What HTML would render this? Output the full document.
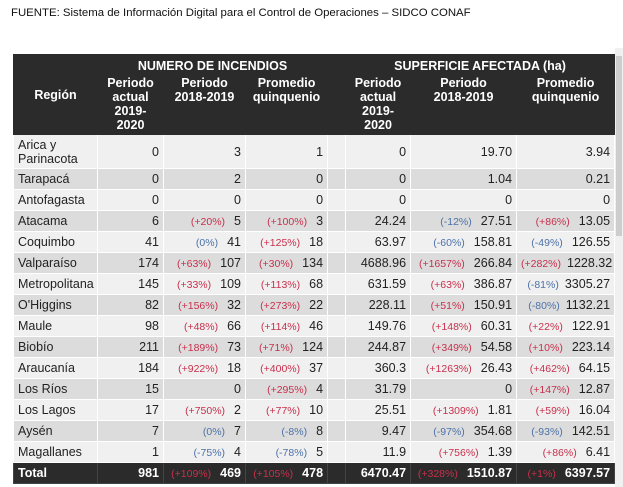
<!DOCTYPE html>
<html><head><meta charset="utf-8">
<style>
body{margin:0;width:623px;height:487px;overflow:hidden;background:#fff;font-family:"Liberation Sans","DejaVu Sans",sans-serif;position:relative}
.src{position:absolute;left:11px;top:7px;font-size:11.4px;color:#111}
table{position:absolute;left:13px;top:54px;border-collapse:collapse;table-layout:fixed;width:601px}
td,th{border:1px solid #fff;padding:0 4px;font-size:12px;color:#222;white-space:nowrap;overflow:hidden}
th{background:#2b2b2b;color:#fff;font-weight:bold;font-size:12.5px;line-height:14px;border-color:#2b2b2b;text-align:center}
td{height:20px;text-align:right;font-size:12.5px}
td.r{text-align:left;line-height:14px}
tr.a td{background:#f0f0f0}
tr.b td{background:#dcdcdc}
.p{font-size:10.5px;margin-right:9px}
.p.red{color:#c8304c}.p.blu{color:#4c72a8}
tr.t td{background:#2b2b2b;color:#fff;font-weight:bold;border-color:#444}
.sb{position:absolute;left:615px;top:48px;width:8px;height:439px;background:#f0f0f0}
.th{position:absolute;left:616px;top:56px;width:6px;height:180px;background:#cdcdcd}
</style></head><body>
<div class="src">FUENTE: Sistema de Información Digital para el Control de Operaciones – SIDCO CONAF</div>
<div class="sb"></div><div class="th"></div>
<table>
<colgroup><col style="width:84px"><col style="width:66px"><col style="width:82px"><col style="width:82px"><col style="width:18px"><col style="width:65px"><col style="width:106px"><col style="width:98px"></colgroup>
<tr><th rowspan="2" style="height:79px">Región</th><th colspan="3" style="height:18px;padding-top:2px">NUMERO DE INCENDIOS</th><th rowspan="2"></th><th colspan="3" style="padding-top:2px">SUPERFICIE AFECTADA (ha)</th></tr>
<tr><th style="vertical-align:top">Periodo<br>actual<br>2019-<br>2020</th><th style="vertical-align:top">Periodo<br>2018-2019</th><th style="vertical-align:top">Promedio<br>quinquenio</th><th style="vertical-align:top">Periodo<br>actual<br>2019-<br>2020</th><th style="vertical-align:top">Periodo<br>2018-2019</th><th style="vertical-align:top">Promedio<br>quinquenio</th></tr>
<tr class="a"><td class="r" style="height:33px">Arica y<br>Parinacota</td><td>0</td><td>3</td><td>1</td><td></td><td>0</td><td>19.70</td><td>3.94</td></tr>
<tr class="b"><td class="r">Tarapacá</td><td>0</td><td>2</td><td>0</td><td></td><td>0</td><td>1.04</td><td>0.21</td></tr>
<tr class="a"><td class="r">Antofagasta</td><td>0</td><td>0</td><td>0</td><td></td><td>0</td><td>0</td><td>0</td></tr>
<tr class="b"><td class="r">Atacama</td><td>6</td><td><span class="p red">(+20%)</span>5</td><td><span class="p red">(+100%)</span>3</td><td></td><td>24.24</td><td><span class="p blu">(-12%)</span>27.51</td><td><span class="p red">(+86%)</span>13.05</td></tr>
<tr class="a"><td class="r">Coquimbo</td><td>41</td><td><span class="p blu">(0%)</span>41</td><td><span class="p red">(+125%)</span>18</td><td></td><td>63.97</td><td><span class="p blu">(-60%)</span>158.81</td><td><span class="p blu">(-49%)</span>126.55</td></tr>
<tr class="b"><td class="r">Valparaíso</td><td>174</td><td><span class="p red">(+63%)</span>107</td><td><span class="p red">(+30%)</span>134</td><td></td><td>4688.96</td><td><span class="p red">(+1657%)</span>266.84</td><td><span class="p red" style="margin-right:6px">(+282%)</span>1228.32</td></tr>
<tr class="a"><td class="r">Metropolitana</td><td>145</td><td><span class="p red">(+33%)</span>109</td><td><span class="p red">(+113%)</span>68</td><td></td><td>631.59</td><td><span class="p red">(+63%)</span>386.87</td><td><span class="p blu" style="margin-right:6px">(-81%)</span>3305.27</td></tr>
<tr class="b"><td class="r">O'Higgins</td><td>82</td><td><span class="p red">(+156%)</span>32</td><td><span class="p red">(+273%)</span>22</td><td></td><td>228.11</td><td><span class="p red">(+51%)</span>150.91</td><td><span class="p blu" style="margin-right:6px">(-80%)</span>1132.21</td></tr>
<tr class="a"><td class="r">Maule</td><td>98</td><td><span class="p red">(+48%)</span>66</td><td><span class="p red">(+114%)</span>46</td><td></td><td>149.76</td><td><span class="p red">(+148%)</span>60.31</td><td><span class="p red">(+22%)</span>122.91</td></tr>
<tr class="b"><td class="r">Biobío</td><td>211</td><td><span class="p red">(+189%)</span>73</td><td><span class="p red">(+71%)</span>124</td><td></td><td>244.87</td><td><span class="p red">(+349%)</span>54.58</td><td><span class="p red">(+10%)</span>223.14</td></tr>
<tr class="a"><td class="r">Araucanía</td><td>184</td><td><span class="p red">(+922%)</span>18</td><td><span class="p red">(+400%)</span>37</td><td></td><td>360.3</td><td><span class="p red">(+1263%)</span>26.43</td><td><span class="p red">(+462%)</span>64.15</td></tr>
<tr class="b"><td class="r">Los Ríos</td><td>15</td><td>0</td><td><span class="p red">(+295%)</span>4</td><td></td><td>31.79</td><td>0</td><td><span class="p red">(+147%)</span>12.87</td></tr>
<tr class="a"><td class="r">Los Lagos</td><td>17</td><td><span class="p red">(+750%)</span>2</td><td><span class="p red">(+77%)</span>10</td><td></td><td>25.51</td><td><span class="p red">(+1309%)</span>1.81</td><td><span class="p red">(+59%)</span>16.04</td></tr>
<tr class="b"><td class="r">Aysén</td><td>7</td><td><span class="p blu">(0%)</span>7</td><td><span class="p blu">(-8%)</span>8</td><td></td><td>9.47</td><td><span class="p blu">(-97%)</span>354.68</td><td><span class="p blu">(-93%)</span>142.51</td></tr>
<tr class="a"><td class="r">Magallanes</td><td>1</td><td><span class="p blu">(-75%)</span>4</td><td><span class="p blu">(-78%)</span>5</td><td></td><td>11.9</td><td><span class="p red">(+756%)</span>1.39</td><td><span class="p red">(+86%)</span>6.41</td></tr>
<tr class="t"><td class="r">Total</td><td>981</td><td><span class="p red" style="font-weight:normal">(+109%)</span>469</td><td><span class="p red" style="font-weight:normal">(+105%)</span>478</td><td></td><td>6470.47</td><td><span class="p red" style="font-weight:normal">(+328%)</span>1510.87</td><td><span class="p red" style="font-weight:normal">(+1%)</span>6397.57</td></tr>
</table>
</body></html>
